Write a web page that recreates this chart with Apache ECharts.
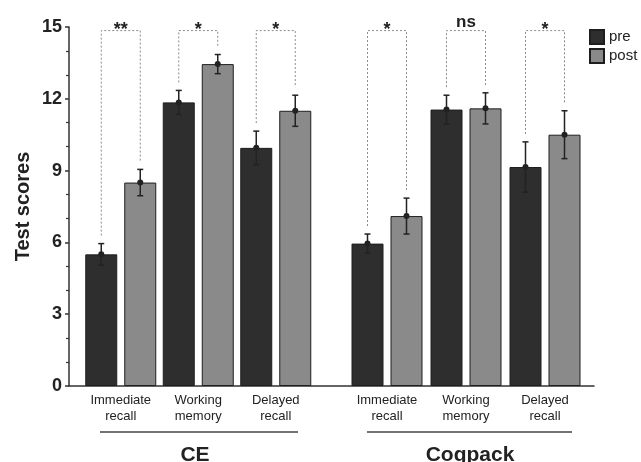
<!DOCTYPE html>
<html>
<head>
<meta charset="utf-8">
<script src="https://cdn.jsdelivr.net/npm/echarts@6/dist/echarts.min.js"></script>
<style>
html, body { margin: 0; padding: 0; background: #fff; }
#chart { width: 641px; height: 462px; }
</style>
</head>
<body>
<div id="chart"></div>
<script>
// data
var tasks = ['Immediate\nrecall', 'Working\nmemory', 'Delayed\nrecall'];
var groups = ['CE', 'Cogpack'];
var cePre = [5.5, 11.85, 9.95];
var cePost = [8.5, 13.45, 11.5];
var cePreErr = [0.45, 0.5, 0.7];
var cePostErr = [0.55, 0.4, 0.65];
var cogPre = [5.95, 11.55, 9.15];
var cogPost = [7.1, 11.6, 10.5];
var cogPreErr = [0.4, 0.6, 1.05];
var cogPostErr = [0.75, 0.65, 1.0];
var ceSig = ['**', '*', '*'];
var cogSig = ['*', 'ns', '*'];
var yTicks = [0, 3, 6, 9, 12, 15];

var FONT = '"Liberation Sans", Arial, Helvetica, sans-serif';
var BAR_W = 32, BAR_GAP = 7;
var PRE_COLOR = '#2e2e2e', POST_COLOR = '#8a8a8a';
var BRACKET_LEVEL = 14.85, LEG_GAP = 8;

function barSeries(name, values, color, gi) {
  return {
    name: name, type: 'bar', xAxisIndex: gi + 1, yAxisIndex: gi + 1,
    barWidth: BAR_W, barGap: (BAR_GAP / BAR_W * 100) + '%',
    itemStyle: { color: color, borderColor: '#1e1e1e', borderWidth: 1 },
    data: values
  };
}

function errSeries(means, errs, side, gi) {
  return {
    type: 'custom', xAxisIndex: gi + 1, yAxisIndex: gi + 1, z: 5, silent: true, clip: false,
    data: means.map(function (m, i) { return [i, m, errs[i]]; }),
    renderItem: function (params, api) {
      var c = api.value(0), m = api.value(1), e = api.value(2);
      var p = api.coord([c, m]);
      var x = p[0] + side * (BAR_W + BAR_GAP) / 2;
      var t = api.coord([c, m + e])[1], b = api.coord([c, m - e])[1];
      var st = { stroke: '#222', lineWidth: 1.5 };
      return {
        type: 'group', children: [
          { type: 'line', shape: { x1: x, y1: t, x2: x, y2: b }, style: st },
          { type: 'line', shape: { x1: x - 3, y1: t, x2: x + 3, y2: t }, style: st },
          { type: 'line', shape: { x1: x - 3, y1: b, x2: x + 3, y2: b }, style: st },
          { type: 'circle', shape: { cx: x, cy: p[1], r: 3 }, style: { fill: '#222' } }
        ]
      };
    }
  };
}

function sigSeries(pre, preErr, post, postErr, labels, gi) {
  return {
    type: 'custom', xAxisIndex: gi + 1, yAxisIndex: gi + 1, z: 6, silent: true, clip: false,
    data: pre.map(function (m, i) { return [i, m + preErr[i], post[i] + postErr[i]]; }),
    renderItem: function (params, api) {
      var c = api.value(0);
      var off = (BAR_W + BAR_GAP) / 2;
      var cx = api.coord([c, 0])[0];
      var yTop = api.coord([c, BRACKET_LEVEL])[1];
      var yl = api.coord([c, api.value(1)])[1] - LEG_GAP;
      var yr = api.coord([c, api.value(2)])[1] - LEG_GAP;
      var lab = labels[params.dataIndex];
      return {
        type: 'group', children: [
          { type: 'polyline',
            shape: { points: [[cx - off, yl], [cx - off, yTop], [cx + off, yTop], [cx + off, yr]] },
            style: { stroke: '#8a8a8a', lineWidth: 1, lineDash: [2, 2], fill: null } },
          { type: 'text', x: cx, y: lab === 'ns' ? yTop - 8 : yTop - 1,
            style: { text: lab, align: 'center', verticalAlign: 'middle',
                     fontSize: lab === 'ns' ? 17 : 18, fontWeight: 'bold', fontFamily: FONT, fill: '#222' } }
        ]
      };
    }
  };
}

var chart = echarts.init(document.getElementById('chart'));
var subX = function (gi) {
  return {
    type: 'category', gridIndex: gi + 1, data: tasks,
    axisLine: { show: false }, axisTick: { show: false },
    axisLabel: { interval: 0, fontSize: 13, lineHeight: 16, margin: 6, color: '#222', fontFamily: FONT }
  };
};
var subY = function (gi) {
  return { type: 'value', gridIndex: gi + 1, show: false, min: yTicks[0], max: yTicks[yTicks.length - 1] };
};

chart.setOption({
  backgroundColor: '#fff',
  animation: false,
  textStyle: { fontFamily: FONT },
  grid: [
    { left: 69, right: 47, top: 27, bottom: 76 },
    { left: 82, right: 326.5, top: 27, bottom: 76 },
    { left: 347.5, right: 56.5, top: 27, bottom: 76 }
  ],
  legend: {
    data: ['pre', 'post'], orient: 'vertical', left: 589, top: 29,
    itemWidth: 14, itemHeight: 14, itemGap: 3, padding: 0, icon: 'rect',
    textStyle: { fontSize: 15, color: '#222', fontFamily: FONT }
  },
  xAxis: [
    { type: 'value', gridIndex: 0, min: 0, max: 1,
      axisLine: { show: true, lineStyle: { color: '#333', width: 1.5 } },
      axisTick: { show: false }, axisLabel: { show: false }, splitLine: { show: false } },
    subX(0), subX(1)
  ],
  yAxis: [
    { type: 'value', gridIndex: 0, min: yTicks[0], max: yTicks[yTicks.length - 1], interval: yTicks[1] - yTicks[0],
      name: 'Test scores', nameLocation: 'middle', nameGap: 36, nameMoveOverlap: false,
      nameTextStyle: { fontSize: 20, fontWeight: 'bold', color: '#222', fontFamily: FONT },
      axisLine: { show: true, lineStyle: { color: '#333', width: 1.5 } },
      axisTick: { show: true, length: 4, lineStyle: { color: '#333', width: 1.5 } },
      minorTick: { show: true, splitNumber: 3, length: 3, lineStyle: { color: '#333', width: 1.2 } },
      axisLabel: { fontSize: 18, fontWeight: 'bold', color: '#222', margin: 7, fontFamily: FONT },
      splitLine: { show: false } },
    subY(0), subY(1)
  ],
  graphic: [
    { type: 'line', shape: { x1: 100, y1: 432, x2: 298, y2: 432 }, style: { stroke: '#444', lineWidth: 1.5 } },
    { type: 'line', shape: { x1: 367, y1: 432, x2: 572, y2: 432 }, style: { stroke: '#444', lineWidth: 1.5 } },
    { type: 'text', x: 195, y: 455, style: { text: groups[0], align: 'center', verticalAlign: 'middle',
      fontSize: 21, fontWeight: 'bold', fill: '#222', fontFamily: FONT } },
    { type: 'text', x: 470, y: 455, style: { text: groups[1], align: 'center', verticalAlign: 'middle',
      fontSize: 21, fontWeight: 'bold', fill: '#222', fontFamily: FONT } }
  ],
  series: [
    barSeries('pre', cePre, PRE_COLOR, 0),
    barSeries('post', cePost, POST_COLOR, 0),
    barSeries('pre', cogPre, PRE_COLOR, 1),
    barSeries('post', cogPost, POST_COLOR, 1),
    errSeries(cePre, cePreErr, -1, 0),
    errSeries(cePost, cePostErr, 1, 0),
    errSeries(cogPre, cogPreErr, -1, 1),
    errSeries(cogPost, cogPostErr, 1, 1),
    sigSeries(cePre, cePreErr, cePost, cePostErr, ceSig, 0),
    sigSeries(cogPre, cogPreErr, cogPost, cogPostErr, cogSig, 1)
  ]
});
</script>
</body>
</html>
